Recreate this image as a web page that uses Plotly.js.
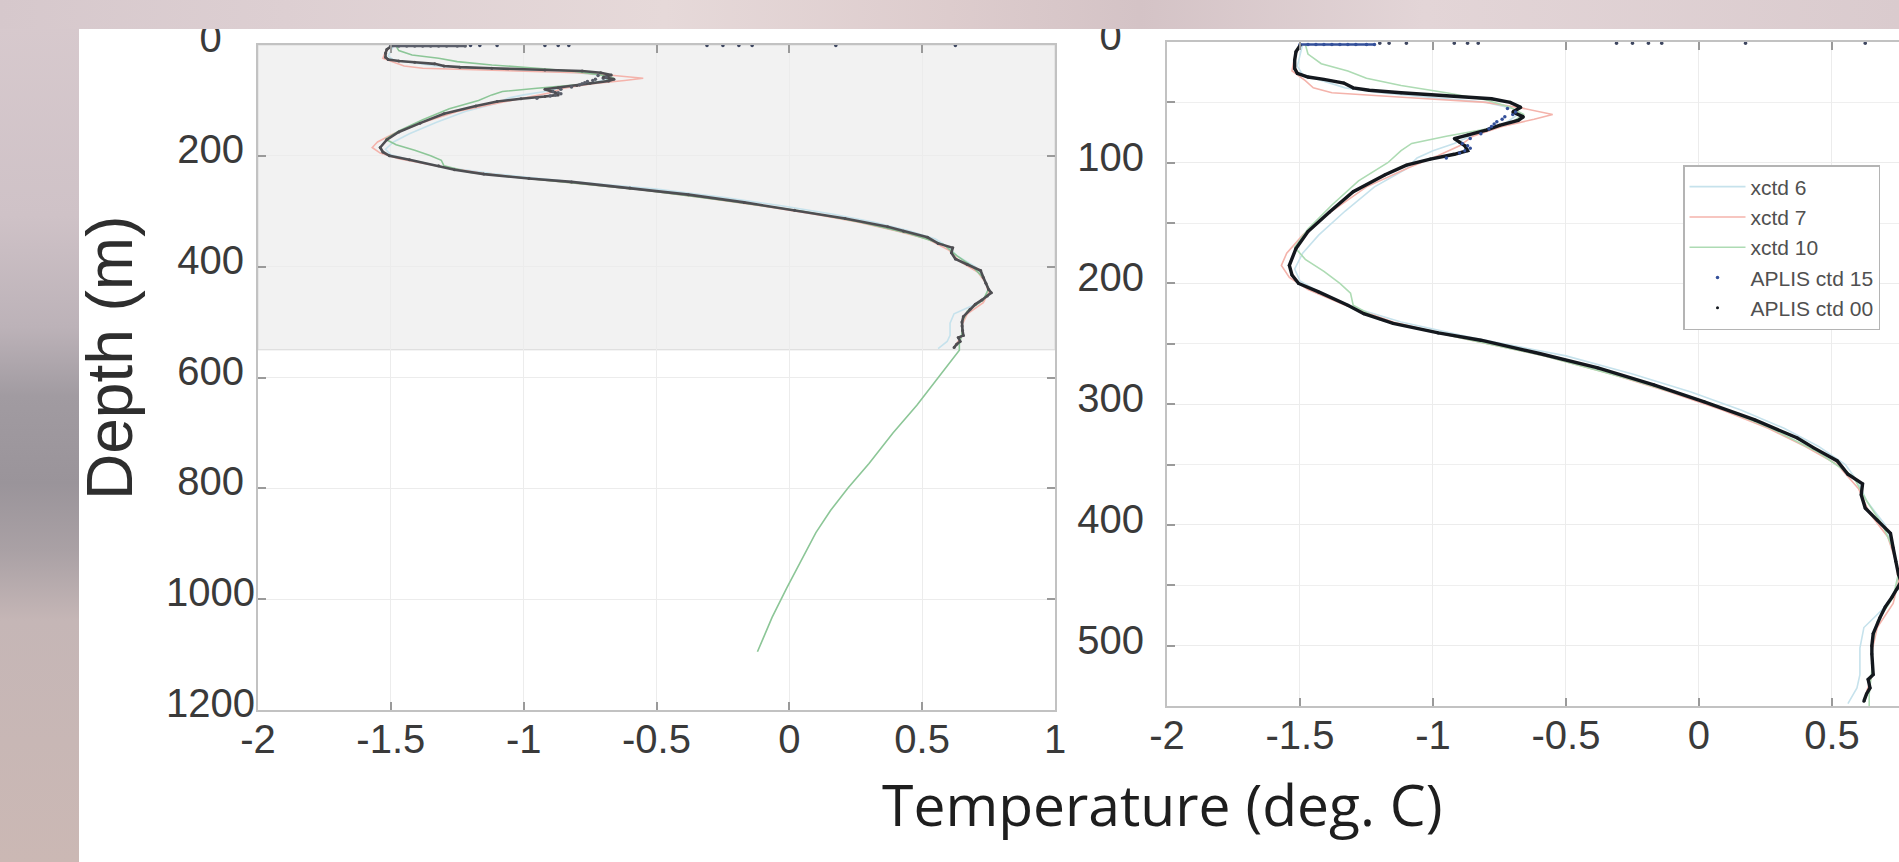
<!DOCTYPE html>
<html>
<head>
<meta charset="utf-8">
<script src="https://cdn.plot.ly/plotly-3.0.1.min.js"></script>
<style>
html,body{margin:0;padding:0;background:#fff;overflow:hidden;}
#chart{width:1899px;height:862px;}
</style>
</head>
<body>
<div id="chart"></div>
<script>
// ---------------- data (temperature in deg C, depth in m) ----------------
const depthAplis00 = [3, 8, 15, 22, 26, 29, 31, 34, 38, 40, 42, 45, 47, 50, 54, 58, 62, 65, 69, 73, 77, 80, 83, 86, 90, 93, 97, 102, 110, 124, 141, 157, 171, 185, 193, 200, 207, 218, 225, 233, 241, 247, 258, 270, 284, 298, 313, 328, 336, 347, 358, 366, 375, 386, 396, 407, 419, 430, 441, 447, 453, 460, 468, 477, 490, 500, 507, 515, 524, 528, 535, 540, 546];
const tempAplis00 = [-1.50, -1.515, -1.52, -1.52, -1.51, -1.47, -1.41, -1.335, -1.30, -1.24, -1.12, -0.92, -0.78, -0.71, -0.67, -0.70, -0.66, -0.68, -0.75, -0.80, -0.87, -0.92, -0.90, -0.88, -0.87, -0.92, -1.01, -1.10, -1.18, -1.30, -1.39, -1.47, -1.515, -1.54, -1.53, -1.505, -1.43, -1.32, -1.26, -1.15, -0.98, -0.82, -0.60, -0.38, -0.17, 0.02, 0.21, 0.37, 0.43, 0.52, 0.56, 0.615, 0.61, 0.625, 0.67, 0.72, 0.73, 0.74, 0.75, 0.76, 0.745, 0.725, 0.70, 0.68, 0.655, 0.65, 0.65, 0.652, 0.655, 0.636, 0.643, 0.63, 0.62];

// APLIS ctd 15: surface run, 50-100 m cluster, and isolated points at the surface
const depthAplis15Surface = [2, 2, 2, 2, 2, 2, 2, 2, 2, 2];
const tempAplis15Surface  = [-1.50, -1.47, -1.44, -1.41, -1.38, -1.35, -1.32, -1.29, -1.25, -1.22];
const depthAplis15Cluster = [55, 58, 60, 62, 64, 66, 68, 70, 72, 76, 80, 84, 86, 88, 90, 92, 96];
const tempAplis15Cluster  = [-0.72, -0.69, -0.70, -0.73, -0.74, -0.76, -0.77, -0.78, -0.79, -0.82, -0.86, -0.89, -0.87, -0.86, -0.88, -0.90, -0.95];
const depthAplis15Top = [1, 1, 1, 1, 1, 1, 1, 1, 1, 1, 1, 1];
const tempAplis15Top  = [-1.20, -1.165, -1.10, -0.92, -0.87, -0.83, -0.31, -0.25, -0.19, -0.14, 0.175, 0.625];

const depthXctd6 = [2, 10, 20, 27, 32, 38, 42, 46, 50, 55, 60, 66, 72, 78, 84, 90, 96, 105, 120, 140, 160, 175, 188, 198, 208, 220, 232, 245, 260, 275, 290, 305, 320, 335, 350, 365, 380, 400, 420, 440, 455, 470, 485, 502, 524, 535, 548];
const tempXctd6  = [-1.49, -1.50, -1.51, -1.49, -1.42, -1.33, -1.20, -1.00, -0.80, -0.70, -0.68, -0.72, -0.78, -0.86, -0.92, -1.00, -1.06, -1.10, -1.22, -1.33, -1.43, -1.49, -1.52, -1.50, -1.42, -1.30, -1.12, -0.85, -0.50, -0.25, -0.03, 0.16, 0.32, 0.45, 0.55, 0.60, 0.63, 0.70, 0.73, 0.75, 0.74, 0.69, 0.62, 0.605, 0.605, 0.594, 0.56];

const depthXctd7 = [2, 12, 24, 32, 38, 42, 46, 50, 55, 60, 64, 70, 78, 86, 94, 104, 120, 140, 160, 175, 185, 195, 205, 218, 232, 245, 260, 275, 290, 305, 320, 335, 350, 370, 390, 410, 430, 447, 465, 485, 505, 525, 545];
const tempXctd7  = [-1.50, -1.52, -1.53, -1.48, -1.45, -1.38, -1.10, -0.80, -0.66, -0.55, -0.62, -0.74, -0.85, -0.90, -0.98, -1.09, -1.25, -1.38, -1.49, -1.55, -1.57, -1.54, -1.47, -1.33, -1.15, -0.90, -0.58, -0.33, -0.11, 0.09, 0.26, 0.40, 0.52, 0.60, 0.64, 0.71, 0.74, 0.75, 0.73, 0.67, 0.65, 0.65, 0.62];

const depthXctd10 = [2, 10, 18, 24, 30, 36, 42, 48, 54, 60, 66, 72, 78, 84, 90, 100, 115, 135, 155, 170, 180, 190, 200, 208, 218, 230, 245, 260, 280, 300, 320, 340, 360, 380, 400, 420, 440, 460, 480, 500, 520, 540, 551, 600, 650, 700, 755, 800, 840, 880, 930, 980, 1033, 1095];
const tempXctd10  = [-1.48, -1.47, -1.42, -1.32, -1.25, -1.12, -0.95, -0.80, -0.71, -0.66, -0.70, -0.80, -0.95, -1.08, -1.12, -1.17, -1.28, -1.38, -1.47, -1.52, -1.48, -1.41, -1.35, -1.31, -1.30, -1.20, -0.90, -0.58, -0.25, 0.05, 0.27, 0.45, 0.58, 0.63, 0.69, 0.73, 0.75, 0.73, 0.67, 0.65, 0.65, 0.64, 0.64, 0.56, 0.48, 0.39, 0.30, 0.22, 0.155, 0.10, 0.045, -0.01, -0.065, -0.12];

const seriesNames = ['xctd 6', 'xctd 7', 'xctd 10', 'APLIS ctd 15', 'APLIS ctd 00'];

const tempTickVals = [-2, -1.5, -1, -0.5, 0, 0.5, 1];
const tempTickText = ['-2', '-1.5', '-1', '-0.5', '0', '0.5', '1'];
const depthTickValsLeft = [0, 200, 400, 600, 800, 1000, 1200];
const depthTickTextLeft = ['0\u2007\u2008', '200\u2008', '400\u2008', '600\u2008', '800\u2008', '1000', '1200'];
const depthTickValsRight = [0, 100, 200, 300, 400, 500];
const depthTickTextRight = ['0\u2007', '100', '200', '300', '400', '500'];
const shadedDepth = [0, 550];

// ---------------- layout helpers ----------------
const W = 1899, H = 862;
const px = v => v / W;
const py = v => 1 - v / H;

const colXctd6 = '#c6e2ec', colXctd7 = '#f4b3ab', colXctd10 = '#addbb3';
const colA15 = '#34509a', colA00 = '#14181e';
const tickFont = {family: 'Liberation Sans, Arial, Helvetica, sans-serif', size: 40, color: '#3a3a3a'};

function panelTraces(xa, ya, legend, leftPanel) {
  const lw = leftPanel ? 2.6 : 3.4;
  const c00 = leftPanel ? '#4e4e52' : colA00;
  const c15 = leftPanel ? '#5a5e6a' : colA15;
  const common = {type: 'scatter', xaxis: xa, yaxis: ya};
  return [
    Object.assign({}, common, {mode: 'lines', name: seriesNames[0], x: tempXctd6, y: depthXctd6,
      line: {color: colXctd6, width: 1.6}, showlegend: legend}),
    Object.assign({}, common, {mode: 'lines', name: seriesNames[1], x: tempXctd7, y: depthXctd7,
      line: {color: colXctd7, width: 1.6}, showlegend: legend}),
    Object.assign({}, common, {mode: 'lines', name: seriesNames[2], x: tempXctd10, y: depthXctd10,
      line: {color: leftPanel ? '#8cc697' : colXctd10, width: 1.6}, showlegend: legend}),
    Object.assign({}, common, {mode: 'lines', name: seriesNames[4], x: tempAplis00, y: depthAplis00,
      line: {color: c00, width: lw}, showlegend: false, legendgroup: 'a00', hoverinfo: 'skip'}),
    Object.assign({}, common, {mode: 'lines+markers', name: seriesNames[3], x: tempAplis15Surface, y: depthAplis15Surface,
      line: {color: c15, width: 2.5}, marker: {color: c15, size: 3.5}, showlegend: false, legendgroup: 'a15'}),
    Object.assign({}, common, {mode: 'markers', name: seriesNames[3], x: tempAplis15Top, y: depthAplis15Top,
      marker: {color: '#3d4660', size: 3.5}, showlegend: false, legendgroup: 'a15'}),
    Object.assign({}, common, {mode: 'markers', name: seriesNames[3], x: tempAplis15Cluster, y: depthAplis15Cluster,
      marker: {color: c15, size: 3.5}, showlegend: legend, legendgroup: 'a15'}),
    Object.assign({}, common, {mode: 'markers', name: seriesNames[4], x: tempAplis00, y: depthAplis00,
      marker: {color: c00, size: 3}, showlegend: legend, legendgroup: 'a00'})
  ];
}

const data = [].concat(panelTraces('x', 'y', false, true), panelTraces('x2', 'y2', true, false));

const axisCommon = {
  showline: true, linecolor: '#c2c2c2', linewidth: 2,
  ticks: 'inside', ticklen: 8, tickwidth: 1.5, tickcolor: '#9a9a9a',
  showgrid: true, gridcolor: '#ececec', gridwidth: 1,
  zeroline: false, tickfont: tickFont, fixedrange: true
};

const bgSvg =
'<svg xmlns="http://www.w3.org/2000/svg" width="1899" height="862" viewBox="0 0 1899 862">' +
'<defs>' +
'<linearGradient id="l" x1="0" y1="0" x2="0" y2="1">' +
'<stop offset="0" stop-color="#d8cace"/><stop offset="0.25" stop-color="#cfc2c7"/>' +
'<stop offset="0.38" stop-color="#bcb2b8"/><stop offset="0.46" stop-color="#a19ba1"/>' +
'<stop offset="0.56" stop-color="#9a949a"/><stop offset="0.64" stop-color="#aaa1a5"/>' +
'<stop offset="0.72" stop-color="#c5b6b6"/><stop offset="1" stop-color="#cbb8b4"/>' +
'</linearGradient>' +
'<linearGradient id="t" x1="0" y1="0" x2="1" y2="0">' +
'<stop offset="0" stop-color="#d6c8cc"/><stop offset="0.15" stop-color="#ddcfd2"/>' +
'<stop offset="0.35" stop-color="#e6d9d9"/><stop offset="0.5" stop-color="#ddcccd"/>' +
'<stop offset="0.6" stop-color="#d4c3c6"/><stop offset="0.75" stop-color="#e3d5d7"/>' +
'<stop offset="1" stop-color="#dacbce"/>' +
'</linearGradient>' +
'</defs>' +
'<rect x="0" y="0" width="79" height="862" fill="url(#l)"/>' +
'<rect x="0" y="0" width="1899" height="29" fill="url(#t)"/>' +
'</svg>';

const layout = {
  width: W, height: H,
  margin: {l: 0, r: 0, t: 0, b: 0, pad: 0},
  paper_bgcolor: '#ffffff', plot_bgcolor: '#ffffff',
  showlegend: true,
  font: {family: 'Liberation Sans, Arial, sans-serif', color: '#333'},
  xaxis: Object.assign({}, axisCommon, {
    domain: [px(258), px(1055)], range: [-2, 1], anchor: 'y', mirror: 'ticks',
    tickmode: 'array', tickvals: tempTickVals, ticktext: tempTickText, ticklabelstandoff: -7
  }),
  yaxis: Object.assign({}, axisCommon, {
    domain: [py(710), py(45)], range: [1200, 0], anchor: 'x', mirror: 'ticks',
    tickmode: 'array', tickvals: depthTickValsLeft, ticktext: depthTickTextLeft,
    ticklabelstandoff: -7, ticklabelshift: 7
  }),
  xaxis2: Object.assign({}, axisCommon, {
    domain: [px(1167), 1], range: [-2, 0.752], anchor: 'y2', mirror: 'ticks',
    tickmode: 'array', tickvals: tempTickVals, ticktext: tempTickText, ticklabelstandoff: -7
  }),
  yaxis2: Object.assign({}, axisCommon, {
    domain: [py(706), py(42)], range: [550, 0], anchor: 'x2', mirror: false,
    tickmode: 'array', tickvals: depthTickValsRight, ticktext: depthTickTextRight,
    ticklabelstandoff: 13, ticklabelshift: 6,
    minor: {dtick: 50, ticks: 'inside', ticklen: 8, tickcolor: '#9a9a9a', showgrid: true, gridcolor: '#efefef'}
  }),
  shapes: [
    {type: 'rect', xref: 'x', yref: 'y', x0: -2, x1: 1, y0: shadedDepth[0], y1: shadedDepth[1],
     fillcolor: '#f2f2f2', line: {color: '#d9d9d9', width: 1}, layer: 'below'}
  ],
  annotations: [
    {xref: 'paper', yref: 'paper', x: px(1162), y: py(804), xanchor: 'center', yanchor: 'middle',
     text: 'Temperature (deg. C)', showarrow: false,
     font: {family: 'Open Sans, Noto Sans, sans-serif', size: 57, color: '#1e1e1e'}},
    {xref: 'paper', yref: 'paper', x: px(110), y: py(358), xanchor: 'center', yanchor: 'middle',
     text: 'Depth (m)', textangle: -90, showarrow: false,
     font: {family: 'Liberation Sans, Arial, sans-serif', size: 64, color: '#2e2e2e'}}
  ],
  legend: {
    x: px(1683), y: py(165), xanchor: 'left', yanchor: 'top',
    bgcolor: '#ffffff', bordercolor: '#b4b4b4', borderwidth: 1.5,
    font: {family: 'Liberation Sans, Arial, sans-serif', size: 21, color: '#505050'},
    itemwidth: 56, tracegroupgap: 0
  },
  images: [
    {source: 'data:image/svg+xml;charset=utf-8,' + encodeURIComponent(bgSvg),
     xref: 'paper', yref: 'paper', x: 0, y: 1, sizex: 1, sizey: 1,
     xanchor: 'left', yanchor: 'top', sizing: 'stretch', layer: 'above'}
  ]
};

Plotly.newPlot('chart', data, layout, {displayModeBar: false, responsive: false});
</script>
</body>
</html>
